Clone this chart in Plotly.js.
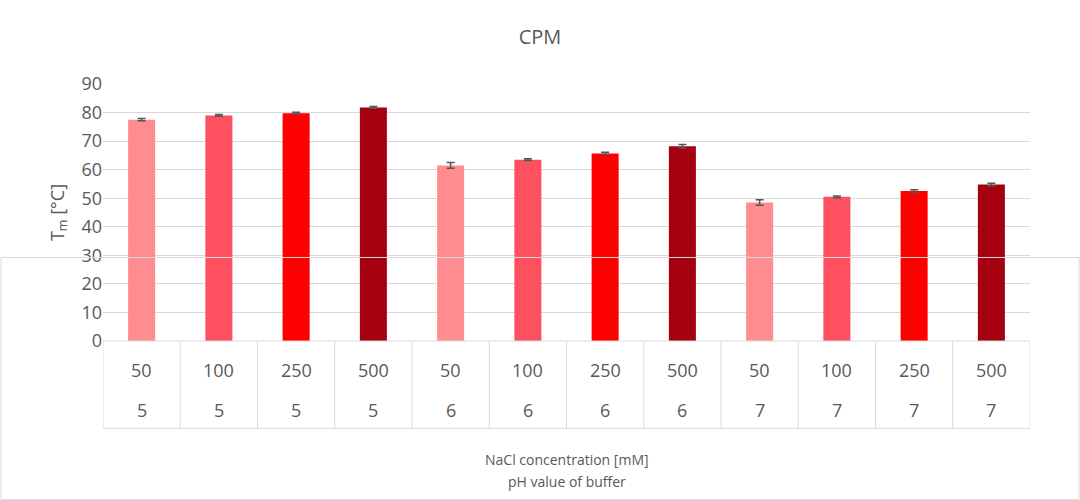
<!DOCTYPE html>
<html>
<head>
<meta charset="utf-8">
<script src="https://cdn.plot.ly/plotly-3.0.1.min.js"></script>
</head>
<body style="margin:0">
<div id="chart"></div>
<script>
const nacl = ["50", "100", "250", "500", "50", "100", "250", "500", "50", "100", "250", "500"];
const ph = ["5", "5", "5", "5", "6", "6", "6", "6", "7", "7", "7", "7"];
const tm = [77.5, 79.0, 79.8, 81.8, 61.5, 63.5, 65.7, 68.2, 48.5, 50.5, 52.5, 54.8];
const err = [0.4, 0.3, 0.3, 0.3, 1.0, 0.3, 0.4, 0.6, 1.0, 0.3, 0.5, 0.4];
const colors = ["#FF8C8F", "#FF5060", "#FF0000", "#A50010"];

const idx = tm.map((v, i) => i);
const gray = "#595959";

const shapes = [];
for (let i = 0; i <= idx.length; i++) {
    shapes.push({type: "line", xref: "x", yref: "paper", x0: i - 0.5, x1: i - 0.5,
        y0: 0, y1: -0.34, line: {color: "#d9d9d9", width: 1}});
}
shapes.push({type: "line", xref: "paper", yref: "paper", x0: 0, x1: 1, y0: -0.34, y1: -0.34,
    line: {color: "#d9d9d9", width: 1}});
shapes.push({type: "line", xref: "paper", yref: "paper", x0: 0, x1: 1, y0: 0, y1: 0,
    line: {color: "#d9d9d9", width: 1}});
// outer chart border
shapes.push({type: "rect", xref: "paper", yref: "paper", x0: -0.11, x1: 1.053, y0: -0.617, y1: 0.325,
    line: {color: "#d9d9d9", width: 1}});

const annotations = [];
idx.forEach(i => {
    annotations.push({x: i, y: 0, xref: "x", yref: "paper", yshift: -43, text: nacl[i],
        showarrow: false, font: {size: 18, color: gray}});
    annotations.push({x: i, y: 0, xref: "x", yref: "paper", yshift: -83, text: ph[i],
        showarrow: false, font: {size: 18, color: gray}});
});
annotations.push({x: 0.5, y: 0, xref: "paper", yref: "paper", yshift: -130,
    text: "NaCl concentration [mM]", showarrow: false, font: {size: 14, color: gray}});
annotations.push({x: 0.5, y: 0, xref: "paper", yref: "paper", yshift: -152,
    text: "pH value of buffer", showarrow: false, font: {size: 14, color: gray}});

Plotly.newPlot("chart", [{
    type: "bar",
    x: idx,
    y: tm,
    width: 0.35,
    marker: {color: idx.map(i => colors[i % 4])},
    error_y: {type: "data", array: err, color: "#555555", thickness: 1.5, width: 4}
}], {
    width: 1080, height: 500,
    margin: {l: 103, r: 50, t: 84, b: 159},
    font: {family: "Open Sans, Liberation Sans, sans-serif", color: gray},
    title: {text: "CPM", x: 0.5, y: 0.94, font: {size: 20, color: gray}},
    showlegend: false,
    xaxis: {range: [-0.5, 11.5], showticklabels: false, showgrid: false, zeroline: false},
    yaxis: {range: [0, 90], dtick: 10, gridcolor: "#d9d9d9", zeroline: false,
        tickfont: {size: 18, color: gray}, ticks: "", ticklen: 4,
        title: {text: "T<sub>m</sub> [°C]", font: {size: 18, color: gray}, standoff: 12}},
    shapes: shapes,
    annotations: annotations,
    paper_bgcolor: "white", plot_bgcolor: "white"
}, {displayModeBar: false});
</script>
</body>
</html>
